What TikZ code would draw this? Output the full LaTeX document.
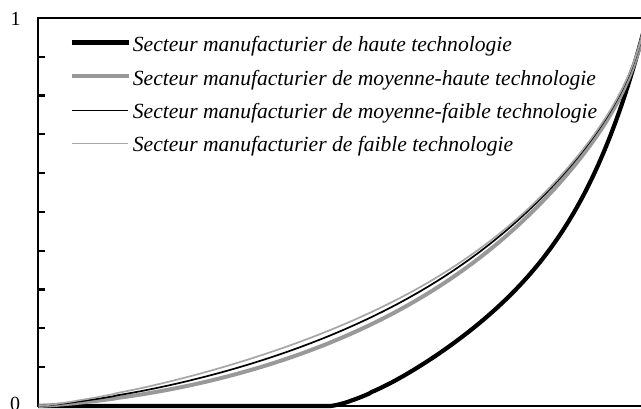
\documentclass[tikz,border=0pt]{standalone}
\usepackage{fontspec}
\setmainfont{Liberation Serif}
\definecolor{midgray}{HTML}{999999}
\definecolor{lightgray2}{HTML}{A6A6A6}
\begin{document}
\begin{tikzpicture}[x=1pt,y=-1pt,
  axisline/.style={line width=2.2pt,black},
  hightech/.style={line width=4.2pt,black},
  medhigh/.style={line width=4pt,midgray},
  medlow/.style={line width=1.7pt,black},
  lowtech/.style={line width=1.7pt,lightgray2},
  curve/.style={smooth,samples=140,domain=0.001:1,variable=\t},
  legtext/.style={anchor=base west,inner sep=0pt,font=\fontsize{21.6}{26}\selectfont\itshape},
  ticklab/.style={inner sep=0pt,font=\fontsize{20}{24}\selectfont}]
\useasboundingbox (0,0) rectangle (641,409);
\begin{scope}
\clip (0,0) rectangle (641,409);
% axes and frame
\draw[axisline,line join=miter] (645,18) -- (38,18) -- (38,406) -- (645,406);
\foreach \k in {1,...,9} \draw[axisline] (38,{18+38.8*\k}) -- (44.5,{18+38.8*\k});
% curves
\draw[hightech,line join=round] (38,406) -- (330,406) -- plot[curve,domain=0.002:1] ({330+317*\t},{406-388*(0.6*\t^1.4+0.4*\t^6)});
\draw[medhigh,line join=round] plot[curve] ({38+609*\t},{406-388*(0.1931*\t^1.2+0.4706*\t^2.4+0.2274*\t^6+0.1089*\t^40)});
\draw[medlow,line join=round] plot[curve] ({38+609*\t},{406-388*(0.2774*\t^1.2+0.3723*\t^2.4+0.2507*\t^6+0.0996*\t^40)});
\draw[lowtech,line join=round] plot[curve] ({38+609*\t},{406-388*(0.3545*\t^1.2+0.2644*\t^2.4+0.2872*\t^6+0.0939*\t^40)});
\end{scope}
% tick labels
\node[ticklab] (one) at (15.5,19) {1};
\node[ticklab] (zero) at (15,404) {0};
% legend
\draw[hightech] (71.5,42.5) -- (128.5,42.5);
\draw[medhigh] (71.5,76) -- (128.5,76);
\draw[medlow] (72,110.5) -- (127.5,110.5);
\draw[lowtech] (72,143.5) -- (127.5,143.5);
\node[legtext] (l1) at (132.7,52) {Secteur manufacturier de haute technologie};
\node[legtext] (l2) at (132.7,85.5) {Secteur manufacturier de moyenne-haute technologie};
\node[legtext] (l3) at (132.7,118.7) {Secteur manufacturier de moyenne-faible technologie};
\node[legtext] (l4) at (132.7,152) {Secteur manufacturier de faible technologie};
\end{tikzpicture}
\end{document}
